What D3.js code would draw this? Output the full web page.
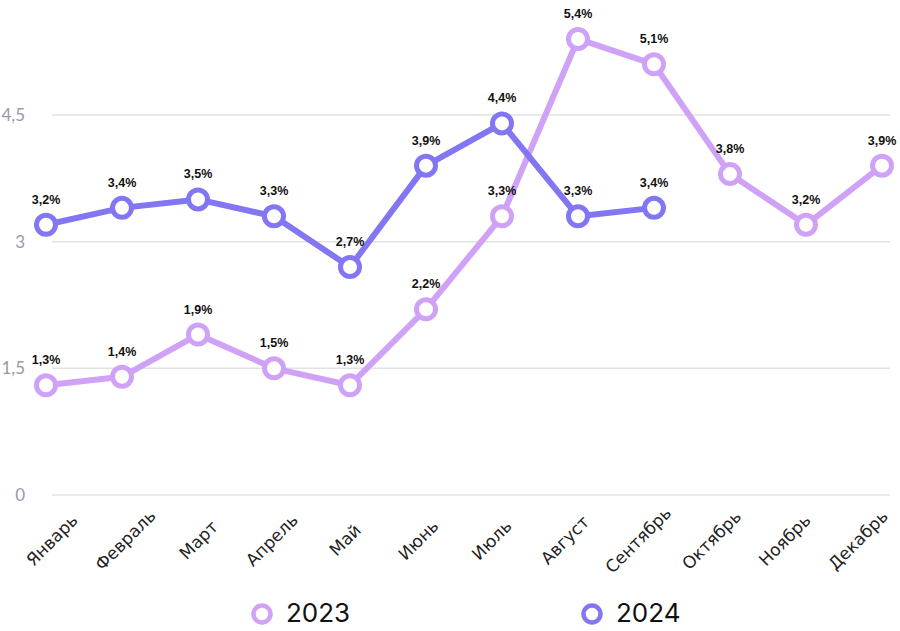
<!DOCTYPE html>
<html>
<head>
<meta charset="utf-8">
<script src="https://cdn.jsdelivr.net/npm/d3@7"></script>
<style>
  body { margin: 0; background: #fff; }
  svg { display: block; }
</style>
</head>
<body>
<div id="chart"></div>
<script>
// data
var months = ["Январь", "Февраль", "Март", "Апрель", "Май", "Июнь", "Июль",
  "Август", "Сентябрь", "Октябрь", "Ноябрь", "Декабрь"];
var values2023 = [1.3, 1.4, 1.9, 1.5, 1.3, 2.2, 3.3, 5.4, 5.1, 3.8, 3.2, 3.9];
var values2024 = [3.2, 3.4, 3.5, 3.3, 2.7, 3.9, 4.4, 3.3, 3.4];
var yTicks = [0, 1.5, 3, 4.5, 6];
var seriesNames = ["2023", "2024"];
var seriesColors = ["#d0a2f7", "#8276f2"];

var width = 900;
var height = 631;

var svg = d3.select("#chart")
  .append("svg")
  .attr("width", width)
  .attr("height", height);

// scales
var xScale = d3.scalePoint()
  .domain(months)
  .range([46, 882]);

// month labels sit on their own band, a little off the points
var labelScale = d3.scalePoint()
  .domain(months)
  .range([52, 858]);

var yScale = d3.scaleLinear()
  .domain([0, 6])
  .range([495, -11.7]);

// grid lines
svg.append("g")
  .selectAll("line")
  .data(yTicks)
  .enter()
  .append("line")
  .attr("x1", 52)
  .attr("x2", 890)
  .attr("y1", function(d) { return yScale(d); })
  .attr("y2", function(d) { return yScale(d); })
  .attr("stroke", "#e2e2e2")
  .attr("stroke-width", 1.5);

// y axis labels
svg.append("g")
  .selectAll("text")
  .data(yTicks)
  .enter()
  .append("text")
  .attr("x", 25)
  .attr("y", function(d) { return yScale(d) + 6; })
  .attr("text-anchor", "end")
  .attr("font-family", "Lato, 'DejaVu Sans', sans-serif")
  .attr("font-size", 17)
  .attr("fill", "#9a97ab")
  .text(function(d) { return String(d).replace(".", ","); });

// x axis labels, rotated
svg.append("g")
  .selectAll("text")
  .data(months)
  .enter()
  .append("text")
  .attr("transform", function(d) {
    return "translate(" + labelScale(d) + ",540)rotate(-45)";
  })
  .attr("text-anchor", "middle")
  .attr("dy", "0.35em")
  .attr("font-family", "'DejaVu Sans', sans-serif")
  .attr("font-size", 17)
  .attr("fill", "#222")
  .text(function(d) { return d; });

var line = d3.line()
  .x(function(d, i) { return xScale(months[i]); })
  .y(function(d) { return yScale(d); });

function drawSeries(values, color) {
  var g = svg.append("g");

  g.append("path")
    .datum(values)
    .attr("d", line)
    .attr("fill", "none")
    .attr("stroke", color)
    .attr("stroke-width", 6)
    .attr("stroke-linejoin", "round");

  g.selectAll("circle")
    .data(values)
    .enter()
    .append("circle")
    .attr("cx", function(d, i) { return xScale(months[i]); })
    .attr("cy", function(d) { return yScale(d); })
    .attr("r", 9.5)
    .attr("fill", "#fff")
    .attr("stroke", color)
    .attr("stroke-width", 5);

  g.selectAll("text")
    .data(values)
    .enter()
    .append("text")
    .attr("x", function(d, i) { return xScale(months[i]); })
    .attr("y", function(d) { return yScale(d) - 21; })
    .attr("text-anchor", "middle")
    .attr("font-family", "'Liberation Sans', Arial, sans-serif")
    .attr("font-weight", "bold")
    .attr("font-size", 12.5)
    .attr("fill", "#111")
    .text(function(d) { return d.toFixed(1).replace(".", ",") + "%"; });
}

drawSeries(values2023, seriesColors[0]);
drawSeries(values2024, seriesColors[1]);

// legend
var legendX = [262, 592];
var legend = svg.append("g")
  .selectAll("g")
  .data(seriesNames)
  .enter()
  .append("g")
  .attr("transform", function(d, i) { return "translate(" + legendX[i] + ",614)"; });

legend.append("circle")
  .attr("r", 8.5)
  .attr("fill", "#fff")
  .attr("stroke", function(d, i) { return seriesColors[i]; })
  .attr("stroke-width", 4.5);

legend.append("text")
  .attr("x", 24)
  .attr("y", 8)
  .attr("font-family", "Inter, 'Liberation Sans', sans-serif")
  .attr("font-size", 26)
  .attr("fill", "#111")
  .text(function(d) { return d; });
</script>
</body>
</html>
